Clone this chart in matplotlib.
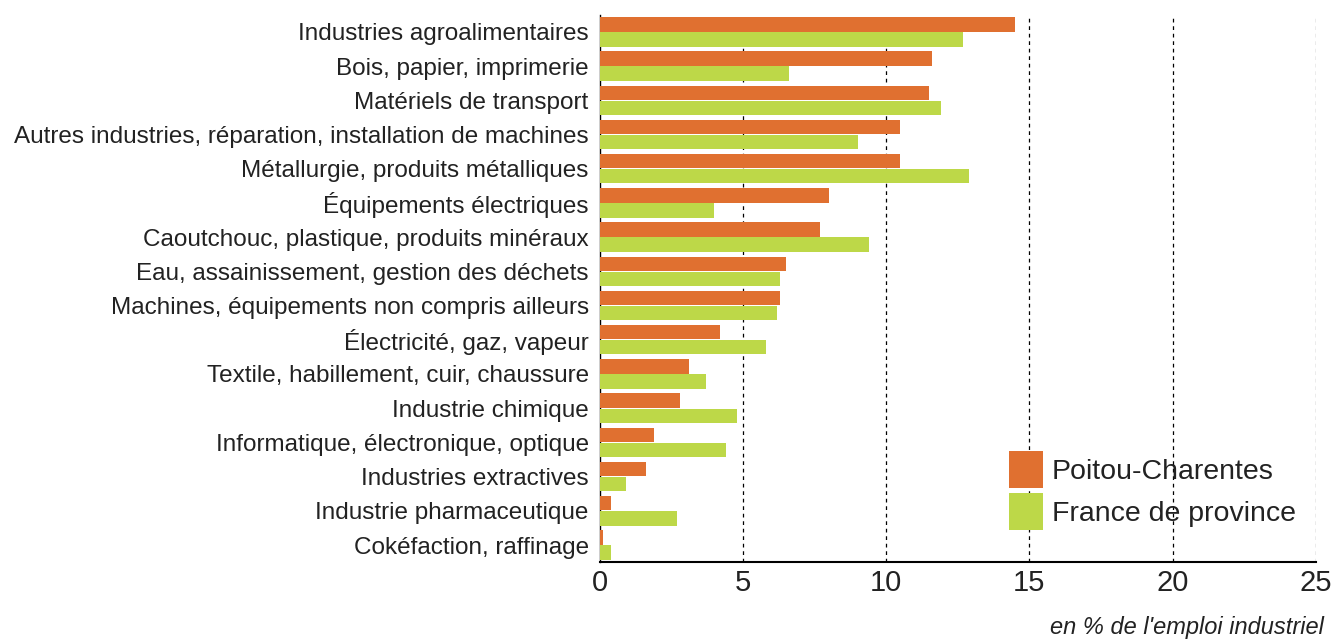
import matplotlib
matplotlib.use("Agg")
import matplotlib.pyplot as plt
import numpy as np

plt.rcParams["font.family"] = ["Liberation Sans", "DejaVu Sans"]

categories = [
    "Industries agroalimentaires",
    "Bois, papier, imprimerie",
    "Matériels de transport",
    "Autres industries, réparation, installation de machines",
    "Métallurgie, produits métalliques",
    "Équipements électriques",
    "Caoutchouc, plastique, produits minéraux",
    "Eau, assainissement, gestion des déchets",
    "Machines, équipements non compris ailleurs",
    "Électricité, gaz, vapeur",
    "Textile, habillement, cuir, chaussure",
    "Industrie chimique",
    "Informatique, électronique, optique",
    "Industries extractives",
    "Industrie pharmaceutique",
    "Cokéfaction, raffinage",
]
poitou = [14.5, 11.6, 11.5, 10.5, 10.5, 8.0, 7.7, 6.5, 6.3, 4.2, 3.1, 2.8, 1.9, 1.6, 0.4, 0.1]
france = [12.7, 6.6, 11.9, 9.0, 12.9, 4.0, 9.4, 6.3, 6.2, 5.8, 3.7, 4.8, 4.4, 0.9, 2.7, 0.4]

orange = "#e07030"
green = "#bdd848"

fig = plt.figure(figsize=(13.33, 6.41), dpi=100)
ax = fig.add_axes([0.450, 0.123, 0.537, 0.854])

y = np.arange(len(categories))
h = 0.42
ax.barh(y - h / 2 - 0.01, poitou, height=h, color=orange, label="Poitou-Charentes", zorder=3)
ax.barh(y + h / 2 + 0.01, france, height=h, color=green, label="France de province", zorder=3)

ax.set_ylim(len(categories) - 0.5, -0.5)
ax.set_xlim(0, 25)
ax.set_yticks(y)
ax.set_yticklabels(categories, fontsize=17.5, color="#222222")
ax.set_xticks([0, 5, 10, 15, 20, 25])
ax.tick_params(axis="x", labelsize=21, length=0, pad=5, labelcolor="#222222")
ax.tick_params(axis="y", length=0, pad=8)

for xv in [5, 10, 15, 20]:
    ax.axvline(xv, color="black", linestyle=(0, (3, 3)), linewidth=0.9, zorder=1)
ax.axvline(25, color="#666666", linestyle=(0, (3, 3)), linewidth=0.9, zorder=1)

for s in ["top", "right"]:
    ax.spines[s].set_visible(False)
ax.spines["left"].set_linewidth(1.0)
ax.spines["bottom"].set_linewidth(1.5)

ax.legend(loc="lower right", bbox_to_anchor=(1.008, 0.012), fontsize=20.5, frameon=False,
          handlelength=1.2, handleheight=1.6, handletextpad=0.3, labelspacing=0.2,
          labelcolor="#222222")

fig.text(0.993, 0.003, "en % de l'emploi industriel", ha="right", va="bottom",
         fontsize=17, style="italic", color="#222222")

fig.savefig("out.png", dpi=100)
